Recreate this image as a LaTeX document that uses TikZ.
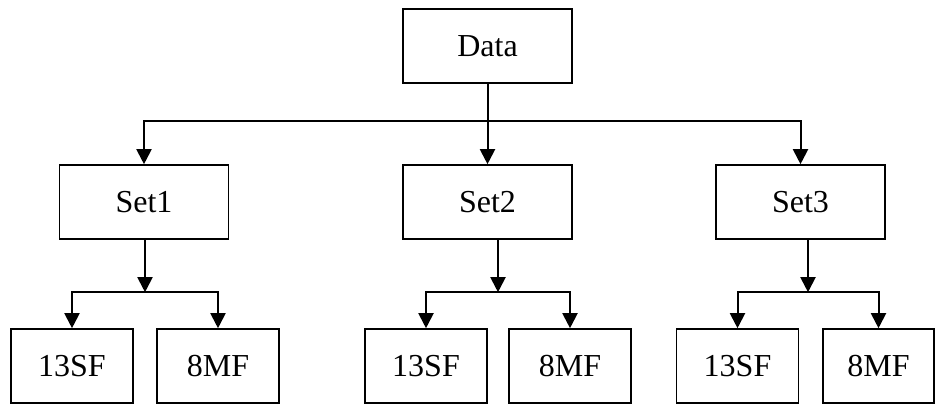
\documentclass[tikz,border=0pt]{standalone}
\usepackage{fontspec}
\setmainfont{Liberation Serif}
\usetikzlibrary{arrows.meta,calc,positioning}

\begin{document}
\begin{tikzpicture}[
  x=0.5pt,y=-0.5pt,
  >={Triangle[length=7.5pt,width=7.5pt]},
  box/.style={draw=black,line width=0.8pt,minimum width=84.5pt,
    minimum height=37pt,inner sep=0pt,font=\fontsize{16}{19}\selectfont},
  leafbox/.style={box,minimum width=61pt},
  link/.style={black,line width=1pt}
]
\path[use as bounding box] (0,0) rectangle (936,405);

\node[box] (data) at (487.5,46) {Data};
\coordinate (top) at (0,121);

\foreach \s/\x/\a/\b/\w in {1/144/72/218/61pt,
                            2/487.5/426/570/61pt,
                            3/800.5/737.5/878.5/55.5pt} {
  \node[box] (set\s) at (\x,202) {Set\s};
  \node[leafbox] (sf\s) at (\a,366) {13SF};
  \node[leafbox,minimum width=\w] (mf\s) at (\b,366) {8MF};
  \coordinate (fork\s) at ($(sf\s.north)!0.5!(mf\s.north)+(0,-36)$);
  \draw[link,->] (set\s.south -| fork\s) -- (fork\s);
  \draw[link,<->] (sf\s.north) |- (fork\s) -| (mf\s.north);
}

\draw[link,->] (data.south) -- (set2.north);
\draw[link,<->] (set1.north) |- (set3.north |- top) -- (set3.north);
\end{tikzpicture}
\end{document}
